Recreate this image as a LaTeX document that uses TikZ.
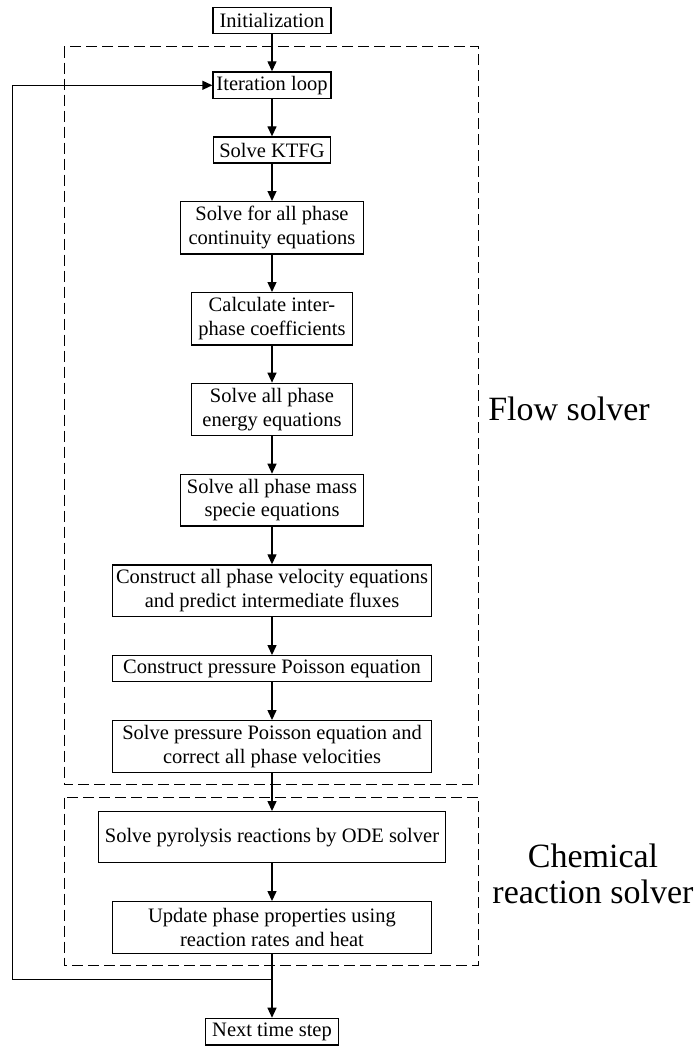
\documentclass[tikz,border=0pt]{standalone}
\usepackage{fontspec}
\setmainfont{Liberation Serif}
\usetikzlibrary{arrows.meta}
\begin{document}
\begin{tikzpicture}[x=1pt,y=-1pt,
  stepbox/.style={draw, line width=1.3pt, align=center, inner sep=0pt,
    font=\fontsize{20.5}{23.7}\selectfont},
  flow/.style={-{Triangle[length=10pt,width=9pt]}, line width=1.3pt},
  region/.style={draw, line width=1.3pt, dash pattern=on 11pt off 5pt},
  tag/.style={font=\fontsize{34}{36}\selectfont, align=center}]
\useasboundingbox (0,0) rectangle (700,1046);

% solver regions
\draw[region] (64.3,46.7) rectangle (478.7,784.7);
\draw[region] (64.3,797.5) rectangle (478.7,965.7);
\node[tag, anchor=base] (flowlbl) at (569,420) {Flow solver};
\node[tag] (chemlbl) at (593,874) {Chemical\\reaction solver};

% steps
\node[stepbox, minimum width=118pt, minimum height=26.4pt] (init) at (272,20.5) {Initialization};
\node[stepbox, minimum width=118pt, minimum height=26.7pt] (iter) at (272,85.3) {Iteration loop};
\node[stepbox, minimum width=117pt, minimum height=26pt] (ktfg) at (272,150) {Solve KTFG};
\node[stepbox, minimum width=183pt, minimum height=52.3pt] (cont) at (272,227.8) {Solve for all phase\\continuity equations};
\node[stepbox, minimum width=161.6pt, minimum height=52.3pt] (inter) at (272,318.8) {Calculate inter-\\phase coefficients};
\node[stepbox, minimum width=161.6pt, minimum height=52.4pt] (energy) at (272,409.5) {Solve all phase\\energy equations};
\node[stepbox, minimum width=183.3pt, minimum height=51.7pt] (mass) at (272,500.2) {Solve all phase mass\\specie equations};
\node[stepbox, minimum width=318.4pt, minimum height=51.7pt] (vel) at (272,590.8) {Construct all phase velocity equations\\and predict intermediate fluxes};
\node[stepbox, minimum width=318.7pt, minimum height=26pt] (ppe) at (272,668.7) {Construct pressure Poisson equation};
\node[stepbox, minimum width=319pt, minimum height=51.6pt] (sppe) at (272,746.5) {Solve pressure Poisson equation and\\correct all phase velocities};
\node[stepbox, minimum width=347.3pt, minimum height=51pt] (pyro) at (272,837.2) {Solve pyrolysis reactions by ODE solver};
\node[stepbox, minimum width=318.4pt, minimum height=51.6pt] (upd) at (272,927.5) {Update phase properties using\\reaction rates and heat};
\node[stepbox, minimum width=133.4pt, minimum height=26.7pt] (next) at (272,1031.7) {Next time step};

% connectors
\draw[flow] (init) -- (iter);
\draw[flow] (iter) -- (ktfg);
\draw[flow] (ktfg) -- (cont);
\draw[flow] (cont) -- (inter);
\draw[flow] (inter) -- (energy);
\draw[flow] (energy) -- (mass);
\draw[flow] (mass) -- (vel);
\draw[flow] (vel) -- (ppe);
\draw[flow] (ppe) -- (sppe);
\draw[flow] (sppe) -- (pyro);
\draw[flow] (pyro) -- (upd);
\draw[flow] (upd) -- (next);

% loop back to the next iteration
\coordinate (split) at (272,979.3);
\coordinate (corner) at (12.3,979.3);
\draw[flow] (split) -- (corner) |- (iter.west);
\end{tikzpicture}
\end{document}
